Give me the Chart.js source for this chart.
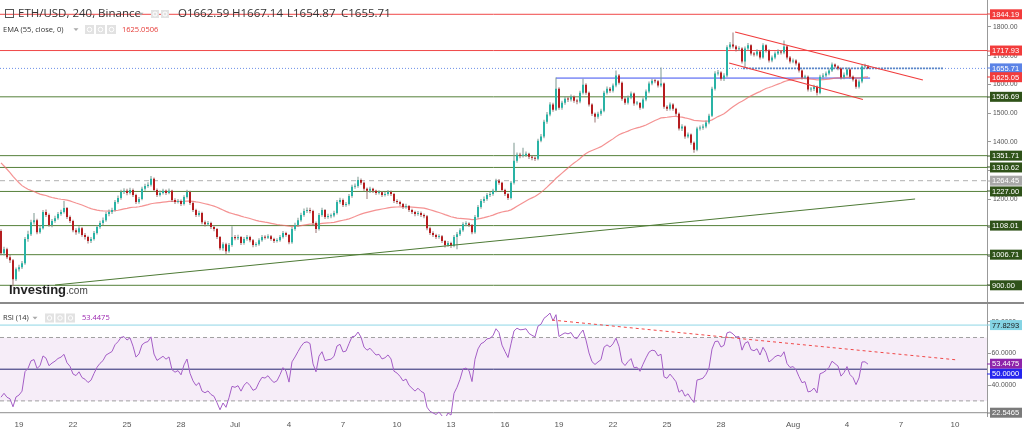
<!DOCTYPE html>
<html><head><meta charset="utf-8">
<script src="https://cdn.jsdelivr.net/npm/chart.js@4.4.0/dist/chart.umd.min.js"></script>
<style>html,body{margin:0;padding:0;background:#fff;overflow:hidden}canvas{display:block}</style>
</head><body>
<canvas id="c" width="1024" height="434"></canvas>
<script>
// ---------- DATA (4h candles, ETH/USD Binance, from 18 Jun) ----------
const firstOpen = 1089;
const closes = [
1012,1026,998,987,921,956,963,977,1061,1078,
1120,1127,1085,1099,1155,1145,1110,1124,1134,1148,
1155,1169,1138,1124,1092,1085,1099,1075,1068,1054,
1061,1082,1103,1117,1127,1148,1155,1162,1190,1204,
1225,1229,1222,1232,1215,1190,1201,1236,1246,1250,
1271,1232,1215,1222,1229,1222,1229,1197,1190,1194,
1183,1208,1225,1187,1162,1145,1152,1120,1113,1117,
1103,1096,1068,1029,1043,1019,1040,1068,1064,1068,
1047,1061,1068,1057,1040,1043,1057,1068,1066,1071,
1061,1054,1057,1068,1082,1075,1050,1096,1110,1127,
1145,1159,1162,1159,1117,1096,1145,1162,1138,1141,
1143,1152,1190,1197,1180,1183,1211,1243,1246,1267,
1257,1236,1229,1236,1229,1222,1224,1215,1218,1225,
1218,1194,1190,1183,1173,1176,1162,1155,1148,1152,
1145,1141,1099,1082,1075,1068,1071,1054,1040,1047,
1038,1068,1078,1092,1113,1115,1110,1085,1138,1173,
1194,1201,1215,1218,1229,1264,1257,1232,1218,1204,
1257,1334,1355,1351,1353,1358,1348,1344,1341,1404,
1418,1470,1495,1530,1512,1585,1519,1536,1550,1547,
1557,1543,1540,1571,1599,1571,1530,1498,1487,1498,
1508,1571,1585,1578,1596,1631,1606,1550,1536,1554,
1568,1533,1535,1519,1547,1575,1603,1613,1611,1596,
1603,1522,1515,1530,1515,1498,1446,1453,1418,1425,
1397,1372,1446,1449,1453,1467,1491,1585,1638,1641,
1620,1631,1729,1739,1732,1722,1725,1680,1725,1736,
1708,1704,1715,1694,1736,1718,1683,1694,1708,1715,
1711,1732,1694,1680,1683,1673,1648,1624,1627,1582,
1584,1592,1571,1627,1631,1638,1648,1669,1662,1655,
1624,1634,1652,1627,1617,1592,1610,1662,1662.59,1655.71];
const highs = [
1095,1034,1031,1006,992,962,972,985,1068,1090,
1128,1152,1132,1108,1162,1164,1150,1131,1142,1155,
1163,1194,1173,1143,1128,1099,1106,1103,1082,1073,
1068,1089,1110,1125,1136,1156,1164,1170,1197,1213,
1233,1238,1236,1240,1237,1219,1208,1243,1254,1259,
1281,1276,1237,1230,1236,1234,1237,1233,1203,1201,
1199,1214,1233,1229,1191,1167,1160,1156,1126,1124,
1121,1109,1100,1072,1050,1048,1047,1106,1075,1076,
1072,1068,1075,1073,1061,1050,1064,1075,1074,1078,
1075,1066,1064,1075,1089,1087,1079,1103,1118,1135,
1153,1168,1171,1170,1163,1122,1152,1170,1166,1149,
1150,1160,1197,1205,1202,1190,1218,1250,1255,1278,
1272,1261,1241,1243,1240,1233,1231,1228,1225,1232,
1230,1222,1200,1195,1187,1184,1180,1167,1160,1159,
1157,1150,1145,1104,1088,1080,1078,1075,1058,1054,
1052,1075,1086,1099,1120,1123,1120,1114,1145,1180,
1201,1209,1222,1226,1236,1271,1270,1261,1236,1222,
1263,1397,1363,1362,1379,1366,1362,1352,1349,1411,
1427,1477,1504,1538,1536,1624,1590,1543,1558,1556,
1565,1561,1550,1578,1620,1604,1575,1534,1502,1505,
1515,1578,1593,1591,1603,1648,1636,1610,1555,1561,
1575,1572,1542,1539,1554,1582,1610,1620,1619,1615,
1659,1607,1527,1537,1534,1519,1502,1461,1457,1432,
1429,1401,1452,1457,1461,1474,1498,1592,1646,1650,
1646,1639,1736,1748,1781,1737,1733,1729,1732,1744,
1740,1713,1722,1719,1743,1740,1722,1701,1715,1722,
1720,1753,1736,1699,1690,1688,1677,1652,1634,1631,
1591,1599,1596,1634,1639,1645,1655,1676,1673,1667,
1659,1641,1659,1656,1631,1621,1617,1669,1672,1667.14];
const lows = [
1005,1004,992,978,897,915,948,957,972,1052,
1072,1112,1078,1080,1094,1138,1104,1102,1118,1128,
1142,1150,1131,1117,1085,1076,1080,1069,1060,1046,
1047,1056,1077,1097,1110,1121,1141,1148,1157,1184,
1198,1218,1214,1216,1208,1183,1184,1196,1229,1240,
1244,1226,1208,1209,1216,1215,1217,1190,1183,1185,
1176,1178,1202,1180,1155,1138,1139,1113,1105,1107,
1096,1088,1061,1022,1020,1008,1013,1034,1057,1058,
1040,1041,1055,1050,1033,1034,1038,1052,1060,1061,
1055,1047,1049,1052,1063,1069,1043,1045,1090,1104,
1121,1139,1152,1151,1110,1082,1091,1139,1131,1132,
1134,1137,1147,1184,1173,1174,1178,1205,1236,1240,
1250,1229,1201,1222,1222,1215,1216,1208,1209,1212,
1211,1187,1183,1176,1166,1167,1155,1148,1141,1142,
1138,1134,1092,1075,1068,1061,1062,1047,1032,1034,
1030,1033,1026,1072,1087,1106,1103,1078,1080,1132,
1167,1187,1195,1208,1212,1224,1250,1225,1211,1197,
1199,1251,1327,1343,1345,1347,1340,1336,1333,1336,
1398,1412,1463,1489,1505,1507,1512,1512,1529,1539,
1540,1536,1531,1534,1565,1564,1523,1490,1467,1480,
1491,1503,1565,1571,1572,1590,1600,1543,1529,1530,
1548,1526,1527,1512,1514,1541,1569,1597,1604,1589,
1590,1515,1507,1509,1508,1491,1439,1438,1411,1412,
1390,1362,1367,1439,1442,1447,1461,1486,1579,1631,
1613,1612,1625,1722,1725,1715,1716,1673,1659,1719,
1701,1697,1698,1687,1689,1711,1676,1677,1688,1702,
1704,1705,1687,1673,1674,1666,1641,1617,1618,1575,
1574,1577,1561,1566,1620,1625,1632,1643,1656,1649,
1617,1618,1628,1620,1610,1585,1586,1604,1656,1654.87];

// x-axis: candle index of each labelled day (6 candles per day)
const dayTickIndex = [6,24,42,60,78,96,114,132,150,168,186,204,222,240,264,282,300,318];
const dayTickLabels = ['19','22','25','28','Jul','4','7','10','13','16','19','22','25','28','Aug','4','7','10'];

// price levels / drawings
const redLevels = [1844.19, 1717.93];
const greenLevels = [1556.69, 1351.71, 1310.62, 1227.00, 1108.01, 1006.71, 900.00];
const grayLevel = 1264.45;
const lastPrice = 1655.71;
const emaLastLabel = 1625.05;
const blueLevel = 1622;
const blueLevelFrom = 185, blueLevelTo = 289.7;
const lastPriceBandFrom = 247.3, lastPriceBandTo = 314;
const greenTrend = [[18, 901], [304.7, 1200.7]];
const channelUpper = [[244.7, 1782.5], [307.3, 1615.3]];
const channelLower = [[242.7, 1674.5], [287.3, 1547.4]];
const priceTicks = [900,1000,1100,1200,1300,1400,1500,1600,1700,1800];

// indicators
const emaPeriod = 55, emaSeed = 1338;
const rsiPeriod = 14, rsiSeedGain = 10, rsiSeedLoss = 15;
const rsiLevels = {high: 77.8293, upper: 70, mid: 50, lower: 30, low: 22.5465};
const rsiLast = 53.4475;
const rsiTrend = [[183.7, 81.0], [319, 55.8]];
const rsiTicks = [40, 60, 80];

const header = {sym: 'ETH/USD, 240, Binance', o: '1662.59', h: '1667.14', l: '1654.87', c: '1655.71', ema: 'EMA (55, close, 0)', emaVal: '1625.0506', rsi: 'RSI (14)', rsiVal: '53.4475'};

// ---------- derived ----------
const opens = closes.map((c, i) => i === 0 ? firstOpen : closes[i - 1]);
const up = closes.map((c, i) => c >= opens[i]);
const ema = []; {
  let e = emaSeed; const k = 2 / (emaPeriod + 1);
  closes.forEach(c => { e = e + (c - e) * k; ema.push(e); });
}
const rsi = []; {
  let ag = rsiSeedGain, al = rsiSeedLoss;
  closes.forEach((c, i) => {
    const ch = c - opens[i];
    ag = (ag * (rsiPeriod - 1) + Math.max(ch, 0)) / rsiPeriod;
    al = (al * (rsiPeriod - 1) + Math.max(-ch, 0)) / rsiPeriod;
    rsi.push(100 - 100 / (1 + ag / al));
  });
}

// ---------- layout constants ----------
const xMin = -1/3, xMax = 986/3;
const priceMax = 1894.01, priceMin = 444.63;
const rsiMax = 282.93, rsiMin = 20.47;
const mainClip = {left: 0, top: 0, right: 0, bottom: -114};
const rsiClip = {left: 0, top: -305, right: 0, bottom: 0};

const span = v => [{x: xMin, y: v}, {x: xMax, y: v}];
const seg = (a, b) => [{x: a[0], y: a[1]}, {x: b[0], y: b[1]}];

const datasets = [];
function line(data, axis, color, extra) {
  datasets.push(Object.assign({type: 'line', data, yAxisID: axis, borderColor: color, borderWidth: 1,
    pointRadius: 0, fill: false, tension: 0, order: 5, clip: axis === 'y' ? mainClip : rsiClip}, extra || {}));
}

// main panel levels
greenLevels.forEach(v => line(span(v), 'y', '#55803a'));
redLevels.forEach(v => line(span(v), 'y', '#f04848'));
line(span(grayLevel), 'y', '#b0b0b0', {borderDash: [5, 4]});
line(span(lastPrice), 'y', '#6b8fe8', {borderDash: [1, 2]});
line([{x: lastPriceBandFrom, y: lastPrice}, {x: lastPriceBandTo, y: lastPrice}], 'y', '#5a86c8', {borderDash: [2, 1], borderWidth: 1.6, order: 4});
line([{x: blueLevelFrom, y: blueLevel}, {x: blueLevelTo, y: blueLevel}], 'y', '#3b4ef0', {order: 4});
// EMA
line(ema.map((v, i) => ({x: i, y: v})), 'y', 'rgba(240,110,110,0.75)', {borderWidth: 1.2, order: 3});
// candles
datasets.push({type: 'bar', yAxisID: 'y', grouped: false, barThickness: 1, inflateAmount: 0, order: 1, clip: mainClip,
  data: closes.map((c, i) => ({x: i, y: [lows[i], highs[i]]})),
  backgroundColor: up.map(u => u ? '#7d978f' : '#9c7474')});
datasets.push({type: 'bar', yAxisID: 'y', grouped: false, barThickness: 2, minBarLength: 1, inflateAmount: 0, order: 0, clip: mainClip,
  data: closes.map((c, i) => ({x: i, y: [opens[i], c]})),
  backgroundColor: up.map(u => u ? '#29b3a5' : '#b51d1f')});
// trend lines
line(seg(greenTrend[0], greenTrend[1]), 'y', '#4d7a35', {order: -1});
line(seg(channelUpper[0], channelUpper[1]), 'y', '#f03c3c', {order: -1, borderWidth: 1.2});
line(seg(channelLower[0], channelLower[1]), 'y', '#f03c3c', {order: -1, borderWidth: 1.2});

// RSI panel
line(span(rsiLevels.upper), 'yr', '#a0a0a0', {borderDash: [4, 3], fill: {value: rsiLevels.lower}, backgroundColor: 'rgba(156,60,176,0.09)', order: 8});
line(span(rsiLevels.lower), 'yr', '#a0a0a0', {borderDash: [4, 3], order: 7});
line(span(rsiLevels.high), 'yr', '#8fd6e6', {order: 6});
line(span(rsiLevels.mid), 'yr', '#23236e', {order: 6});
line(span(rsiLevels.low), 'yr', '#8e8e8e', {order: 6});
line(rsi.map((v, i) => ({x: i, y: v})), 'yr', '#a45ec6', {order: 2});
line(seg(rsiTrend[0], rsiTrend[1]), 'yr', '#f04848', {borderDash: [3, 3], order: 1});

// ---------- decoration plugin ----------
const deco = {
  id: 'deco',
  afterDraw(chart) {
    const c = chart.ctx, ys = chart.scales.y, rs = chart.scales.yr;
    c.save();
    // panel separator
    c.fillStyle = '#8a8a8a';
    c.fillRect(0, 302, 1024, 2);

    // header row 1
    c.textBaseline = 'middle';
    c.strokeStyle = '#555'; c.lineWidth = 1;
    c.strokeRect(5.5, 9.5, 8, 8);
    c.fillStyle = '#333';
    c.font = '11.5px "Open Sans"';
    c.fillText(header.sym, 18, 14);
    tri(c, 141, 14);
    icons(c, [151, 161], 10, 8);
    c.fillStyle = '#333';
    c.fillText('O' + header.o, 178, 14);
    c.fillText('H' + header.h, 232, 14);
    c.fillText('L' + header.l, 287, 14);
    c.fillText('C' + header.c, 341, 14);
    // header row 2
    c.font = '7.5px "Open Sans"';
    c.fillStyle = '#333';
    c.fillText(header.ema, 3, 29.5);
    tri(c, 76, 29.5);
    icons(c, [85, 96, 107], 25, 9);
    c.fillStyle = '#e53935';
    c.fillText(header.emaVal, 122, 29.5);
    // RSI legend
    c.fillStyle = '#333';
    c.fillText(header.rsi, 3, 318);
    tri(c, 35, 318);
    icons(c, [45, 55.5, 66], 313.5, 9);
    c.fillStyle = '#9c27b0';
    c.fillText(header.rsiVal, 82, 318);

    // Investing.com logo
    c.textBaseline = 'alphabetic';
    c.fillStyle = '#222';
    c.font = 'bold 13px "Liberation Sans"';
    c.fillText('Investing', 9, 294);
    const w = c.measureText('Investing').width;
    c.font = '10px "Liberation Sans"';
    c.fillStyle = '#444';
    c.fillText('.com', 9 + w, 294);

    // right labels
    const mainLabels = [
      [redLevels[0], '#f23b3b', '#fff'], [redLevels[1], '#f23b3b', '#fff'],
      [lastPrice, '#5b83e6', '#fff'], [emaLastLabel, '#f23b3b', '#fff'],
      [greenLevels[0], '#2f5219', '#fff'], [greenLevels[1], '#2f5219', '#fff'],
      [greenLevels[2], '#2f5219', '#fff'], [grayLevel, '#a8a8a8', '#fff'],
      [greenLevels[3], '#2f5219', '#fff'], [greenLevels[4], '#2f5219', '#fff'],
      [greenLevels[5], '#2f5219', '#fff'], [greenLevels[6], '#2f5219', '#fff']];
    mainLabels.forEach(([v, bg, fg]) => box(c, ys.getPixelForValue(v), v.toFixed(2), bg, fg));
    const rl = [[rsiLevels.high, '#84d4e4', '#1a1a1a'], [rsiLast, '#8e24aa', '#fff'],
                [rsiLevels.mid, '#2424ee', '#fff'], [rsiLevels.low, '#7a7a7a', '#fff']]
      .map(([v, bg, fg]) => ({v, bg, fg, p: rs.getPixelForValue(v)})).sort((a, b) => a.p - b.p);
    let prevBottom = -1e9;
    rl.forEach(o => {
      let p = o.p;
      if (p - 5 < prevBottom) p = prevBottom + 5;
      prevBottom = p + 5;
      box(c, p, o.v.toFixed(4), o.bg, o.fg);
    });
    c.restore();
  }
};
function tri(c, x, y) {
  c.fillStyle = '#aaa';
  c.beginPath(); c.moveTo(x - 2.5, y - 1.2); c.lineTo(x + 2.5, y - 1.2); c.lineTo(x, y + 1.6); c.closePath(); c.fill();
}
function icons(c, xs, y, s) {
  xs.forEach(x => {
    c.fillStyle = '#e2e2e2'; c.fillRect(x, y, s, s);
    c.strokeStyle = '#fff'; c.lineWidth = 1;
    c.beginPath(); c.arc(x + s / 2, y + s / 2, s / 4, 0, Math.PI * 2); c.stroke();
  });
}
function box(c, yp, text, bg, fg) {
  c.fillStyle = bg;
  c.fillRect(987, Math.round(yp) - 0.5, 4, 1);
  c.fillRect(990, yp - 5, 32, 10);
  c.fillStyle = fg;
  c.font = '7.5px "Liberation Sans"';
  c.textBaseline = 'middle';
  c.textAlign = 'left';
  c.fillText(text, 992, yp + 0.5);
}

const tickFont = {size: 6.8, family: '"Liberation Sans"'};
new Chart(document.getElementById('c').getContext('2d'), {
  type: 'bar',
  data: {datasets},
  options: {
    responsive: false, animation: false, events: [],
    layout: {padding: 0},
    plugins: {legend: {display: false}, tooltip: {enabled: false}},
    scales: {
      x: {type: 'linear', min: xMin, max: xMax, offset: false, bounds: 'data',
        grid: {display: false, drawTicks: false}, border: {display: false},
        ticks: {autoSkip: false, maxRotation: 0, padding: 4, color: '#555',
          font: {size: 8, family: '"Liberation Sans"'}, callback: (v, i) => dayTickLabels[i]},
        afterBuildTicks: s => { s.ticks = dayTickIndex.map(v => ({value: v})); },
        afterFit: s => { s.height = 18; s.paddingLeft = 0; s.paddingRight = 0; }},
      // RSI axis shares the right edge with the price axis (zero layout width, labels mirrored outward)
      yr: {type: 'linear', axis: 'y', position: 'right', weight: 0, min: rsiMin, max: rsiMax, bounds: 'data',
        grid: {drawOnChartArea: false, tickLength: 4, color: '#999'}, border: {display: false},
        ticks: {autoSkip: false, mirror: true, padding: 29, color: '#555', font: tickFont, callback: v => v.toFixed(4)},
        afterBuildTicks: s => { s.ticks = rsiTicks.map(v => ({value: v})); },
        afterFit: s => { s.width = 0; s.paddingTop = 0; s.paddingBottom = 0; }},
      y: {type: 'linear', axis: 'y', position: 'right', weight: 1, min: priceMin, max: priceMax, bounds: 'data',
        grid: {drawOnChartArea: false, tickLength: 4, color: '#999'}, border: {display: true, color: '#999'},
        ticks: {autoSkip: false, padding: 2, color: '#555', font: tickFont, callback: v => v.toFixed(2)},
        afterBuildTicks: s => { s.ticks = priceTicks.map(v => ({value: v})); },
        afterFit: s => { s.width = 37; s.paddingTop = 0; s.paddingBottom = 0; }}
    }
  },
  plugins: [deco]
});
</script>
</body></html>
